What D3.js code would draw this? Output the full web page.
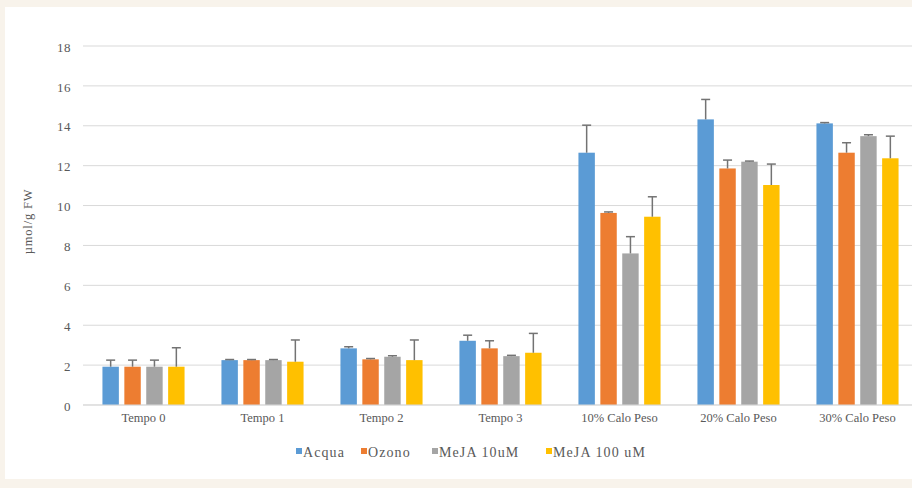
<!DOCTYPE html>
<html>
<head>
<meta charset="utf-8">
<script src="https://cdn.jsdelivr.net/npm/d3@7"></script>
<style>
  html, body { margin: 0; padding: 0; background: #f8f3eb; }
  svg { display: block; }
  text { font-family: "Liberation Serif", "Times New Roman", serif; fill: #595959; }
</style>
</head>
<body>
<svg id="chart" width="912" height="488"></svg>
<script>
// Categories along the x axis
const categories = ["Tempo 0", "Tempo 1", "Tempo 2", "Tempo 3", "10% Calo Peso", "20% Calo Peso", "30% Calo Peso"];
// Treatment series
const seriesNames = ["Acqua", "Ozono", "MeJA 10uM", "MeJA 100 uM"];
const seriesColors = ["#5b9bd5", "#ed7d31", "#a5a5a5", "#ffc000"];
// Mean values (µmol/g FW), one array per series
const acqua   = [1.92, 2.25, 2.84, 3.22, 12.65, 14.32, 14.12];
const ozono   = [1.92, 2.25, 2.29, 2.84,  9.63, 11.86, 12.65];
const meja10  = [1.92, 2.25, 2.42, 2.45,  7.60, 12.20, 13.48];
const meja100 = [1.92, 2.17, 2.25, 2.62,  9.44, 11.03, 12.37];
// Standard deviations (error bar half-lengths)
const acquaErr   = [0.33, 0.03, 0.08, 0.28, 1.38, 1.00, 0.04];
const ozonoErr   = [0.33, 0.03, 0.04, 0.38, 0.05, 0.42, 0.50];
const meja10Err  = [0.33, 0.03, 0.05, 0.04, 0.84, 0.03, 0.07];
const meja100Err = [0.95, 1.09, 1.01, 0.97, 1.00, 1.05, 1.11];
// Y axis ticks
const yTicks = [0, 2, 4, 6, 8, 10, 12, 14, 16, 18];

const values = [acqua, ozono, meja10, meja100];
const errors = [acquaErr, ozonoErr, meja10Err, meja100Err];

const svg = d3.select("#chart");

// White chart panel on the beige page
svg.append("rect")
  .attr("x", 5).attr("y", 7)
  .attr("width", 912).attr("height", 472)
  .attr("fill", "#ffffff");

const plot = { left: 84, right: 917, top: 46, bottom: 405 };

const x = d3.scaleBand()
  .domain(categories)
  .range([plot.left, plot.right])
  .paddingInner(0.31)
  .paddingOuter(0.155);

const xInner = d3.scaleBand()
  .domain(seriesNames)
  .range([0, x.bandwidth()])
  .paddingInner(0.25)
  .paddingOuter(0);

const y = d3.scaleLinear()
  .domain([0, 18])
  .range([plot.bottom, plot.top]);

// Gridlines
svg.append("g")
  .selectAll("line")
  .data(yTicks)
  .join("line")
  .attr("x1", plot.left - 1)
  .attr("x2", 912)
  .attr("y1", d => y(d))
  .attr("y2", d => y(d))
  .attr("stroke", "#d9d9d9")
  .attr("stroke-width", 1);

// Y axis labels
const yAxis = d3.axisLeft(y).tickValues(yTicks).tickSize(0).tickPadding(0);
const yg = svg.append("g")
  .attr("transform", `translate(${plot.left - 13},1)`)
  .call(yAxis);
yg.select(".domain").remove();
yg.selectAll("text")
  .attr("font-family", "Liberation Serif, serif")
  .attr("font-size", 13)
  .attr("letter-spacing", 0.5)
  .attr("fill", "#595959");

// Y axis title
svg.append("text")
  .attr("transform", `translate(32,${(plot.top + plot.bottom) / 2 - 4}) rotate(-90)`)
  .attr("text-anchor", "middle")
  .attr("font-size", 12.5)
  .attr("letter-spacing", 0.8)
  .text("µmol/g FW");

// Bars
const groups = svg.append("g")
  .selectAll("g")
  .data(categories)
  .join("g")
  .attr("transform", d => `translate(${x(d)},0)`);

seriesNames.forEach((name, si) => {
  groups.append("rect")
    .attr("x", xInner(name))
    .attr("width", xInner.bandwidth())
    .attr("y", (c, ci) => y(values[si][ci]))
    .attr("height", (c, ci) => y(0) - y(values[si][ci]))
    .attr("fill", seriesColors[si]);
});

// Error bars (upper half only)
seriesNames.forEach((name, si) => {
  const cx = xInner(name) + xInner.bandwidth() / 2;
  groups.append("line")
    .attr("x1", cx).attr("x2", cx)
    .attr("y1", (c, ci) => y(values[si][ci]))
    .attr("y2", (c, ci) => y(values[si][ci] + errors[si][ci]))
    .attr("stroke", "#737373")
    .attr("stroke-width", 1.5);
  groups.append("line")
    .attr("x1", cx - 4.5).attr("x2", cx + 4.5)
    .attr("y1", (c, ci) => y(values[si][ci] + errors[si][ci]))
    .attr("y2", (c, ci) => y(values[si][ci] + errors[si][ci]))
    .attr("stroke", "#737373")
    .attr("stroke-width", 1.5);
});

// X axis baseline and category labels
svg.append("line")
  .attr("x1", plot.left - 1).attr("x2", 912)
  .attr("y1", y(0)).attr("y2", y(0))
  .attr("stroke", "#d9d9d9");

const xAxis = d3.axisBottom(x).tickSize(0).tickPadding(0);
const xg = svg.append("g")
  .attr("transform", `translate(0,${y(0) + 8})`)
  .call(xAxis);
xg.select(".domain").remove();
xg.selectAll("text")
  .attr("font-family", "Liberation Serif, serif")
  .attr("font-size", 12.5)
  .attr("fill", "#595959");

// Legend
const legendX = [296, 361, 432, 546];
const legend = svg.append("g");
seriesNames.forEach((name, i) => {
  legend.append("rect")
    .attr("x", legendX[i]).attr("y", 448)
    .attr("width", 6).attr("height", 6)
    .attr("fill", seriesColors[i]);
  legend.append("text")
    .attr("x", legendX[i] + 7).attr("y", 457)
    .attr("font-size", 14)
    .attr("letter-spacing", 1.1)
    .text(name);
});
</script>
</body>
</html>
